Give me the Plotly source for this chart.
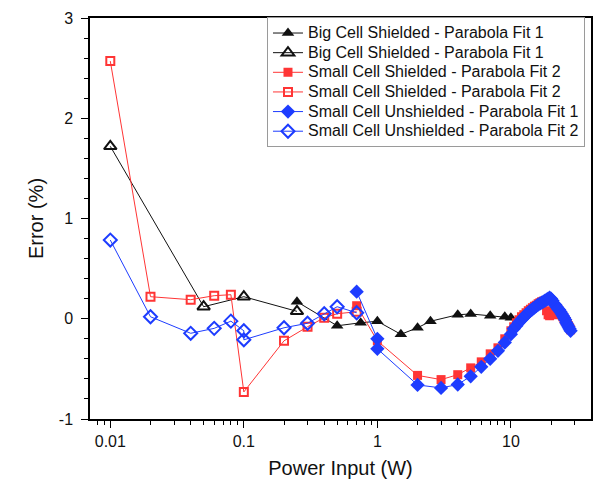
import plotly.graph_objects as go

# ---- data ----
big_fit1_x = [0.25, 0.5, 0.75, 1, 1.5, 2, 2.5, 4, 5, 7, 9, 10]
big_fit1_y = [0.17, -0.07, -0.04, -0.025, -0.155, -0.09, -0.025, 0.04, 0.048, 0.03, 0.02, 0.01]

big_fit2_x = [0.01, 0.05, 0.1, 0.25]
big_fit2_y = [1.72, 0.12, 0.22, 0.074]

sc_sh_fill_x = [0.7, 1, 2, 3, 4, 5, 6, 7, 8, 9, 10, 10.5, 11, 11.5, 12, 12.5, 13, 13.5, 14,
                14.5, 15, 15.5, 16, 16.5, 17, 17.5, 18, 18.5, 19, 19.5, 20, 20.5, 21, 21.5,
                22, 22.5, 23, 23.5, 24, 24.5, 25, 25.5, 26, 26.5, 27, 27.5, 28]
sc_sh_fill_y = [0.13, -0.22, -0.565, -0.607, -0.558, -0.49, -0.43, -0.35, -0.29, -0.2, -0.12,
                -0.08, -0.04, -0.01, 0.02, 0.04, 0.06, 0.08, 0.095, 0.11, 0.125, 0.135, 0.15,
                0.16, 0.17, 0.175, 0.18, 0.08, 0.04, 0.03, 0.05, 0.06, 0.04, 0.1, 0.1, 0.09,
                0.07, 0.05, 0.04, 0.02, 0.0, -0.02, -0.03, -0.05, -0.07, -0.09, -0.11]

sc_sh_open_x = [0.01, 0.02, 0.04, 0.06, 0.08, 0.1, 0.2, 0.3, 0.4, 0.5, 0.7]
sc_sh_open_y = [2.57, 0.22, 0.19, 0.23, 0.24, -0.73, -0.22, -0.08, 0.01, 0.05, 0.07]

sc_un_fill_x = [0.7, 1, 1, 2, 3, 4, 5, 6, 7, 8, 9, 10, 10.5, 11, 11.5, 12, 12.5, 13, 13.5, 14,
                14.5, 15, 15.5, 16, 16.5, 17, 17.5, 18, 18.5, 19, 19.5, 20, 20.5, 21, 21.5,
                22, 22.5, 23, 23.5, 24, 24.5, 25, 25.5, 26, 26.5, 27, 27.5, 28]
sc_un_fill_y = [0.27, -0.2, -0.3, -0.66, -0.69, -0.656, -0.574, -0.48, -0.4, -0.32, -0.237,
                -0.155, -0.1, -0.07, -0.035, -0.01, 0.015, 0.04, 0.06, 0.08, 0.095, 0.11,
                0.125, 0.14, 0.15, 0.16, 0.17, 0.18, 0.19, 0.2, 0.21, 0.2, 0.18, 0.15, 0.14,
                0.12, 0.1, 0.09, 0.07, 0.05, 0.03, 0.01, -0.01, -0.04, -0.06, -0.08, -0.1, -0.12]

sc_un_open_x = [0.01, 0.02, 0.04, 0.06, 0.08, 0.1, 0.1, 0.2, 0.3, 0.4, 0.5, 0.7]
sc_un_open_y = [0.785, 0.02, -0.145, -0.096, -0.024, -0.12, -0.21, -0.09, -0.045, 0.05, 0.12, 0.06]

names = ["Big Cell Shielded - Parabola Fit 1", "Big Cell Shielded - Parabola Fit 1",
         "Small Cell Shielded - Parabola Fit 2", "Small Cell Shielded - Parabola Fit 2",
         "Small Cell Unshielded - Parabola Fit 1", "Small Cell Unshielded - Parabola Fit 2"]

x_tick_vals = [0.01, 0.1, 1, 10]
x_tick_text = ["0.01", "0.1", "1", "10"]
y_tick_vals = [-1, 0, 1, 2, 3]
y_tick_text = ["-1", "0", "1", "2", "3"]

RED = "#ff3535"
BLUE = "#1d3cff"
DARK = "#111111"
FONT = "Liberation Sans, Arial, sans-serif"

fig = go.Figure()

def add(x, y, name, color, symbol, size, open_=False):
    marker = dict(symbol=symbol, size=size, color=color,
                  line=dict(color=color, width=2 if open_ else 0))
    fig.add_trace(go.Scatter(
        x=x, y=y, mode="lines+markers",
        name='<span style="font-size:16px">' + name + '</span>',
        line=dict(color=color, width=1), marker=marker))

add(big_fit1_x, big_fit1_y, names[0], DARK, "triangle-up", 11)
add(big_fit2_x, big_fit2_y, names[1], DARK, "triangle-up-open", 11, open_=True)
add(sc_sh_fill_x, sc_sh_fill_y, names[2], RED, "square", 9)
add(sc_sh_open_x, sc_sh_open_y, names[3], RED, "square-open", 8, open_=True)
add(sc_un_fill_x, sc_un_fill_y, names[4], BLUE, "diamond", 11)
add(sc_un_open_x, sc_un_open_y, names[5], BLUE, "diamond-open", 10, open_=True)

minor_x = [m * 10 ** e for e in range(-3, 2) for m in range(2, 10)]

fig.update_layout(
    width=603, height=486,
    margin=dict(l=90, r=10, t=14, b=64),
    paper_bgcolor="white", plot_bgcolor="white",
    font=dict(family=FONT, size=16, color=DARK),
    showlegend=True,
    legend=dict(x=0.988, y=1.002, xanchor="right", yanchor="top",
                bgcolor="white", bordercolor="#9a9a9a", borderwidth=1,
                font=dict(family=FONT, size=12.8, color=DARK),
                tracegroupgap=0),
    xaxis=dict(type="log", range=[-2.152, 1.6], showgrid=False, zeroline=False,
               showline=True, linecolor="black", linewidth=1.5, mirror=True,
               ticks="outside", ticklen=7, tickwidth=1.2, tickcolor="black",
               tickvals=x_tick_vals, ticktext=x_tick_text,
               minor=dict(ticks="outside", ticklen=4, tickwidth=1, tickcolor="black",
                          tickvals=minor_x, showgrid=False),
               tickfont=dict(size=16),
               title=dict(text="Power Input (W)", font=dict(size=20, family=FONT), standoff=12)),
    yaxis=dict(range=[-1, 3], showgrid=False, zeroline=False,
               showline=True, linecolor="black", linewidth=1.5, mirror=True,
               ticks="outside", ticklen=7, tickwidth=1.2, tickcolor="black",
               tickvals=y_tick_vals, ticktext=y_tick_text,
               minor=dict(ticks="outside", ticklen=4, tickwidth=1, tickcolor="black",
                          dtick=0.2, showgrid=False),
               tickfont=dict(size=16), ticklabelstandoff=5,
               title=dict(text="Error (%)", font=dict(size=20, family=FONT), standoff=10)),
)

fig.write_html("out.html")
